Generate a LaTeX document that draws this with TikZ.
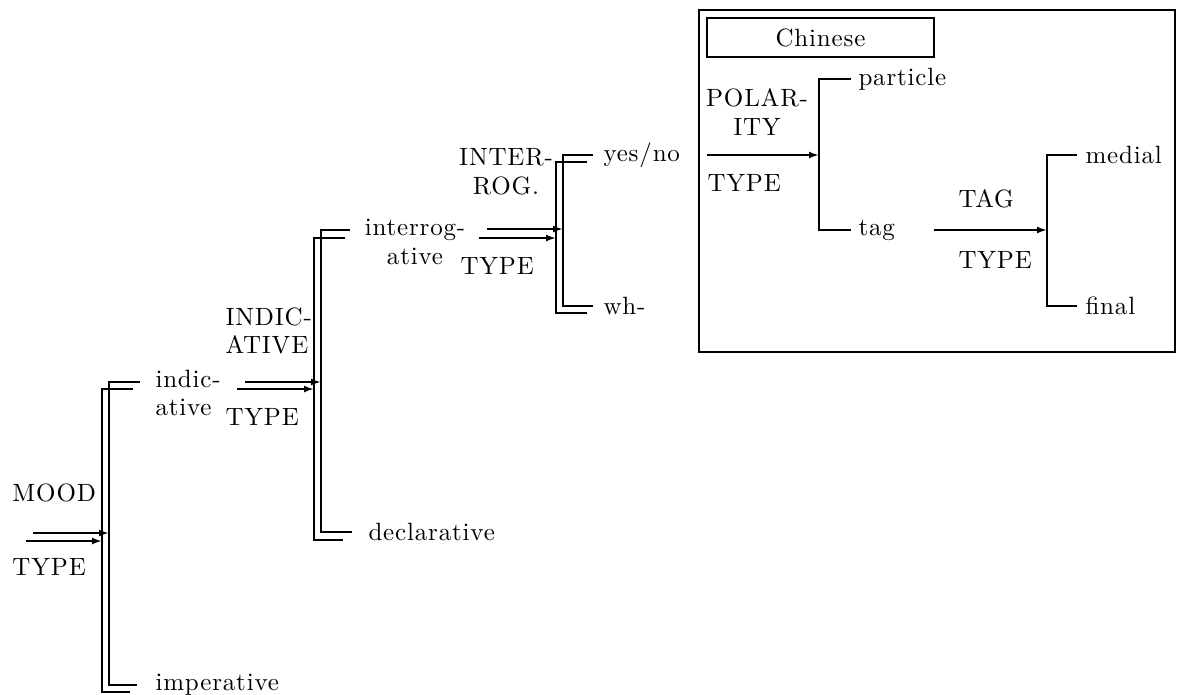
\documentclass[tikz,border=0pt]{standalone}
\usepackage{fontspec}
\setmainfont{Latin Modern Roman}[LetterSpace=3.3]
\usetikzlibrary{arrows.meta}
\begin{document}
\begin{tikzpicture}[x=0.4pt,y=-0.4pt,
  ln/.style={line width=0.9pt},
  arr/.style={line width=0.9pt,-{Latex[length=4pt,width=2.8pt]}},
  lbl/.style={inner sep=0pt,anchor=west,font=\fontsize{10}{11.5}\selectfont},
  clbl/.style={inner sep=0pt,align=center,font=\fontsize{10}{11.5}\selectfont},
  llbl/.style={inner sep=0pt,anchor=west,align=left,font=\fontsize{10}{11.5}\selectfont}]
\useasboundingbox (0,0) rectangle (1178,694);

% ---------- level 1 (MOOD) ----------
\coordinate (A1s) at (33,533);  \coordinate (A1e) at (109,533);
\coordinate (A2s) at (26,541);  \coordinate (A2e) at (102,541);
\coordinate (B1a) at (140,382); \coordinate (B1b) at (109,382);
\coordinate (B1c) at (109,685); \coordinate (B1d) at (137,685);
\coordinate (B2a) at (133,389); \coordinate (B2b) at (102,389);
\coordinate (B2c) at (102,692); \coordinate (B2d) at (130,692);
\draw[arr] (A1s) -- (A1e);
\draw[arr] (A2s) -- (A2e);
\draw[ln] (B1a) -- (B1b) -- (B1c) -- (B1d);
\draw[ln] (B2a) -- (B2b) -- (B2c) -- (B2d);
\node[lbl] (mood) at (12,493) {MOOD};
\node[lbl] (type1) at (12,567) {TYPE};
\node[llbl] (indic) at (155,393) {indic-\\ative};
\node[lbl] (imper) at (155,685) {imperative};

% ---------- level 2 (INDICATIVE) ----------
\coordinate (C1s) at (245,382); \coordinate (C1e) at (321,382);
\coordinate (C2s) at (237,389); \coordinate (C2e) at (314,389);
\coordinate (D1a) at (350,230); \coordinate (D1b) at (321,230);
\coordinate (D1c) at (321,532); \coordinate (D1d) at (352,532);
\coordinate (D2a) at (345,238); \coordinate (D2b) at (314,238);
\coordinate (D2c) at (314,540); \coordinate (D2d) at (343,540);
\draw[arr] (C1s) -- (C1e);
\draw[arr] (C2s) -- (C2e);
\draw[ln] (D1a) -- (D1b) -- (D1c) -- (D1d);
\draw[ln] (D2a) -- (D2b) -- (D2c) -- (D2d);
\node[llbl] (indsys) at (225,331) {INDIC-\\ATIVE};
\node[lbl] (type2) at (225,417) {TYPE};
\node[clbl] (interr) at (415,242) {interrog-\\ative};
\node[lbl] (decl) at (368,532) {declarative};

% ---------- level 3 (INTERROG.) ----------
\coordinate (E1s) at (487,229); \coordinate (E1e) at (563,229);
\coordinate (E2s) at (479,238); \coordinate (E2e) at (556,238);
\coordinate (F1a) at (593,155); \coordinate (F1b) at (563,155);
\coordinate (F1c) at (563,306); \coordinate (F1d) at (593,306);
\coordinate (F2a) at (587,162); \coordinate (F2b) at (556,162);
\coordinate (F2c) at (556,313); \coordinate (F2d) at (587,313);
\draw[arr] (E1s) -- (E1e);
\draw[arr] (E2s) -- (E2e);
\draw[ln] (F1a) -- (F1b) -- (F1c) -- (F1d);
\draw[ln] (F2a) -- (F2b) -- (F2c) -- (F2d);
\node[clbl] (intsys) at (506,172) {INTER-\\ROG.};
\node[lbl] (type3) at (460,266) {TYPE};
\node[lbl] (yesno) at (603,155) {yes/no};
\node[lbl] (wh) at (603,306) {wh-};

% ---------- Chinese box ----------
\coordinate (boxA) at (699,10); \coordinate (boxB) at (1175,352);
\draw[ln] (boxA) rectangle (boxB);
\node[draw,line width=1.1pt,minimum width=90.8pt,minimum height=15.6pt,inner sep=0pt,
      font=\fontsize{10}{11.5}\selectfont] (chinese) at (820.5,37.5) {Chinese};
\coordinate (G1s) at (707,155); \coordinate (G1e) at (819,155);
\coordinate (H1a) at (851,79);  \coordinate (H1b) at (819,79);
\coordinate (H1c) at (819,230); \coordinate (H1d) at (851,230);
\draw[arr] (G1s) -- (G1e);
\draw[ln] (H1a) -- (H1b) -- (H1c) -- (H1d);
\node[clbl] (polar) at (757,112) {POLAR-\\ITY};
\node[lbl] (type4) at (707,183) {TYPE};
\node[lbl] (particle) at (858,79) {particle};
\node[lbl] (tag) at (858,230) {tag};
\coordinate (J1s) at (934,230); \coordinate (J1e) at (1047,230);
\coordinate (K1a) at (1077,155); \coordinate (K1b) at (1047,155);
\coordinate (K1c) at (1047,306); \coordinate (K1d) at (1077,306);
\draw[arr] (J1s) -- (J1e);
\draw[ln] (K1a) -- (K1b) -- (K1c) -- (K1d);
\node[lbl] (tagsys) at (958,199) {TAG};
\node[lbl] (type5) at (958,260) {TYPE};
\node[lbl] (medial) at (1085,155) {medial};
\node[lbl] (final) at (1085,306) {final};
\end{tikzpicture}
\end{document}
